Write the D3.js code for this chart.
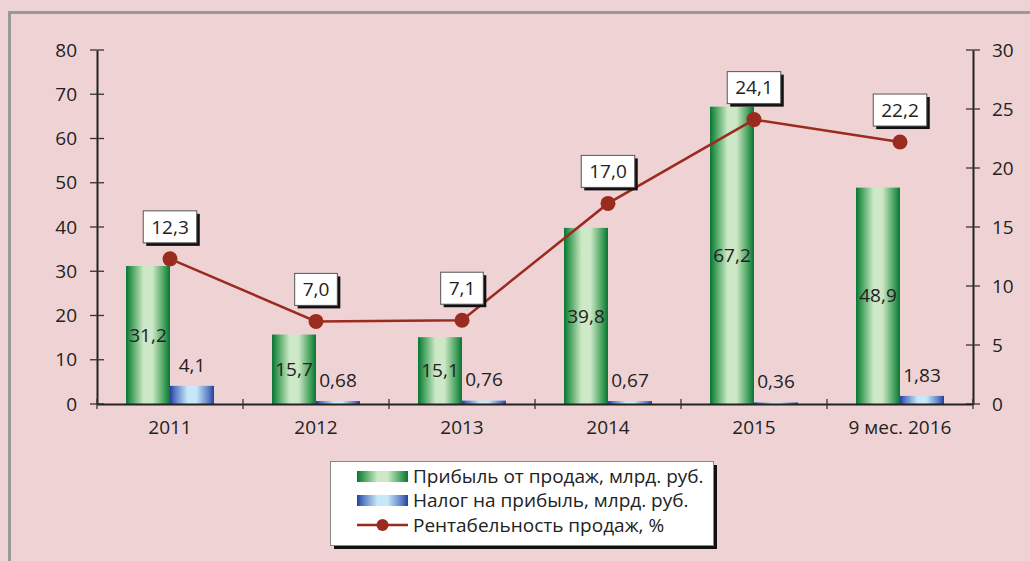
<!DOCTYPE html>
<html><head><meta charset="utf-8">
<script src="https://cdn.jsdelivr.net/npm/d3@7"></script>
<style>
html,body{margin:0;padding:0;background:#efd3d4;}
svg{display:block;font-family:"Open Sans","Noto Sans",sans-serif;}
</style></head>
<body>
<svg id="c" width="1030" height="561"></svg>
<script>
const categories = ["2011","2012","2013","2014","2015","9 мес. 2016"];
const profit = [31.2, 15.7, 15.1, 39.8, 67.2, 48.9];
const tax = [4.1, 0.68, 0.76, 0.67, 0.36, 1.83];
const margin = [12.3, 7.0, 7.1, 17.0, 24.1, 22.2];
const leftTicks = [0,10,20,30,40,50,60,70,80];
const rightTicks = [0,5,10,15,20,25,30];
const seriesNames = ["Прибыль от продаж, млрд. руб.","Налог на прибыль, млрд. руб.","Рентабельность продаж, %"];

const FS = 19;
const svg = d3.select("#c");
const fmt = v => String(v).replace(".", ",");
const fmt1 = v => v.toFixed(1).replace(".", ",");

// frame
svg.append("rect").attr("x",9.5).attr("y",12.5).attr("width",1040).attr("height",600)
  .attr("fill","#efd3d4").attr("stroke","#9a9a9a").attr("stroke-width",3);

const defs = svg.append("defs");
function grad(id, edge, mid, light){
  const g = defs.append("linearGradient").attr("id",id).attr("x1","0").attr("x2","1").attr("y1","0").attr("y2","0");
  [[0,edge],[0.12,mid],[0.4,light],[0.6,light],[0.88,mid],[1,edge]].forEach(s=>g.append("stop").attr("offset",s[0]).attr("stop-color",s[1]));
}
grad("gG","#0b7436","#3e9e58","#cde8c6");
grad("gB","#23409a","#5a7cc4","#c6e8f8");

const x0 = 97, x1 = 973, yTop = 50, yBot = 404;
const x = d3.scaleBand().domain(categories).range([x0,x1]).paddingInner(0).paddingOuter(0);
const inner = d3.scaleBand().domain(["p","t"]).range([0, 88]);
const yL = d3.scaleLinear().domain([0,80]).range([yBot,yTop]);
const yR = d3.scaleLinear().domain([0,30]).range([yBot,yTop]);
const off = (x.bandwidth()-88)/2;

// bars
const g = svg.append("g");
g.selectAll(".bp").data(profit).join("rect")
  .attr("x",(d,i)=>x(categories[i])+off+inner("p")).attr("y",d=>yL(d))
  .attr("width",inner.bandwidth()).attr("height",d=>yBot-yL(d)).attr("fill","url(#gG)");
g.selectAll(".bt").data(tax).join("rect")
  .attr("x",(d,i)=>x(categories[i])+off+inner("t")).attr("y",d=>yL(d))
  .attr("width",inner.bandwidth()).attr("height",d=>yBot-yL(d)).attr("fill","url(#gB)");

// axes
const axL = svg.append("g").attr("transform",`translate(${x0},0)`)
  .call(d3.axisLeft(yL).tickValues(leftTicks).tickSize(0).tickPadding(20));
const axR = svg.append("g").attr("transform",`translate(${x1},0)`)
  .call(d3.axisRight(yR).tickValues(rightTicks).tickSize(0).tickPadding(19));
[axL,axR].forEach(a=>{
  a.attr("font-family",null).attr("font-size",FS);
  a.select(".domain").attr("stroke","#222").attr("stroke-width",2);
  a.selectAll("text").attr("fill","#222");
});
svg.selectAll(".tl").data(leftTicks).join("line").attr("x1",x0-7).attr("x2",x0+7)
  .attr("y1",d=>yL(d)).attr("y2",d=>yL(d)).attr("stroke","#333").attr("stroke-width",1.3);
svg.selectAll(".tr").data(rightTicks).join("line").attr("x1",x1-7).attr("x2",x1+7)
  .attr("y1",d=>yR(d)).attr("y2",d=>yR(d)).attr("stroke","#333").attr("stroke-width",1.3);

const axB = svg.append("g").attr("transform",`translate(0,${yBot})`)
  .call(d3.axisBottom(x).tickSize(0).tickPadding(17));
axB.attr("font-family",null).attr("font-size",FS);
axB.select(".domain").attr("stroke","#222").attr("stroke-width",2);
axB.selectAll("text").attr("fill","#222");
const bounds = categories.map(c=>x(c)).concat([x1]);
svg.selectAll(".tb").data(bounds).join("line").attr("x1",d=>d).attr("x2",d=>d)
  .attr("y1",yBot-5).attr("y2",yBot+5).attr("stroke","#333").attr("stroke-width",1.3);

// bar labels
svg.selectAll(".lp").data(profit).join("text")
  .attr("x",(d,i)=>x(categories[i])+off+inner("p")+inner.bandwidth()/2)
  .attr("y",d=>(yL(d)+yBot)/2).attr("dy","0.35em").attr("text-anchor","middle")
  .attr("font-size",FS).attr("fill","#222").text(fmt);
svg.selectAll(".lt").data(tax).join("text")
  .attr("x",(d,i)=>x(categories[i])+off+inner("t")+inner.bandwidth()/2)
  .attr("y",d=>yL(d)-21).attr("dy","0.35em").attr("text-anchor","middle")
  .attr("font-size",FS).attr("fill","#222").text(fmt);

// line
const cx = (d,i)=>x(categories[i])+x.bandwidth()/2;
svg.append("path").datum(margin)
  .attr("d",d3.line().x(cx).y(d=>yR(d)))
  .attr("fill","none").attr("stroke","#9b2b1e").attr("stroke-width",2.5);
svg.selectAll(".pt").data(margin).join("circle").attr("cx",cx).attr("cy",d=>yR(d))
  .attr("r",7.5).attr("fill","#9b2b1e");

// line labels
const lg = svg.selectAll(".ll").data(margin).join("g")
  .attr("transform",(d,i)=>`translate(${cx(d,i)},${yR(d)-32})`);
lg.each(function(d){
  const s = d3.select(this);
  const t = fmt1(d);
  const sh = s.append("rect").attr("fill","#111");
  const bx = s.append("rect").attr("fill","#fff").attr("stroke","#555").attr("stroke-width",1);
  const tx = s.append("text").attr("text-anchor","middle").attr("dy","0.36em").attr("font-size",FS).attr("fill","#222").text(t);
  const w = tx.node().getComputedTextLength()+16;
  sh.attr("x",-w/2+3).attr("y",-16+3).attr("width",w).attr("height",32);
  bx.attr("x",-w/2).attr("y",-16).attr("width",w).attr("height",32);
});

// legend
const L = svg.append("g");
L.append("rect").attr("x",334).attr("y",465).attr("width",383).attr("height",84).attr("fill","#111");
L.append("rect").attr("x",330.5).attr("y",461.5).attr("width",383).attr("height",84).attr("fill","#fff").attr("stroke","#888");
const rows = [476,500,525];
L.append("rect").attr("x",357).attr("y",rows[0]-5).attr("width",51).attr("height",11).attr("fill","url(#gG)");
L.append("rect").attr("x",357).attr("y",rows[1]-5).attr("width",51).attr("height",11).attr("fill","url(#gB)");
L.append("line").attr("x1",357).attr("x2",408).attr("y1",rows[2]).attr("y2",rows[2]).attr("stroke","#9b2b1e").attr("stroke-width",2.5);
L.append("circle").attr("cx",382.5).attr("cy",rows[2]).attr("r",6).attr("fill","#9b2b1e");
L.selectAll(".lt2").data(seriesNames).join("text").attr("x",413).attr("y",(d,i)=>rows[i])
  .attr("dy","0.35em").attr("font-size",FS).attr("fill","#222").text(d=>d);
</script>
</body></html>
